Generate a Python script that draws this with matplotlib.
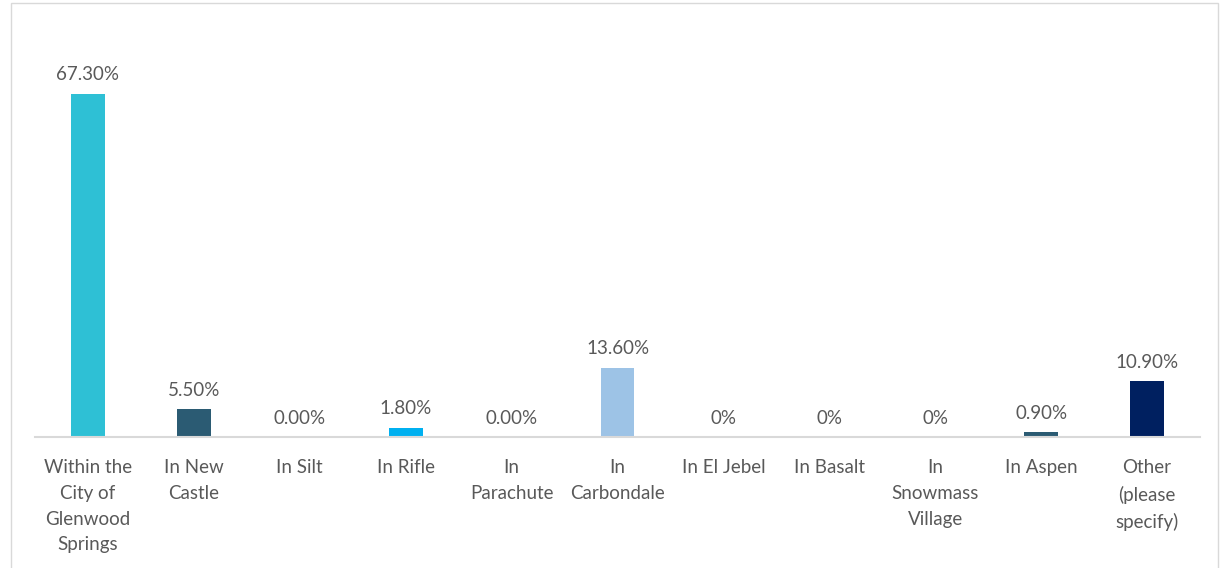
import matplotlib
matplotlib.use("Agg")
import matplotlib.pyplot as plt
from matplotlib.patches import Rectangle

categories = ["Within the\nCity of\nGlenwood\nSprings", "In New\nCastle", "In Silt", "In Rifle",
              "In\nParachute", "In\nCarbondale", "In El Jebel", "In Basalt",
              "In\nSnowmass\nVillage", "In Aspen", "Other\n(please\nspecify)"]
values = [67.3, 5.5, 0.0, 1.8, 0.0, 13.6, 0.0, 0.0, 0.0, 0.9, 10.9]
value_labels = ["67.30%", "5.50%", "0.00%", "1.80%", "0.00%", "13.60%", "0%", "0%", "0%", "0.90%", "10.90%"]
colors = ["#2EC0D5", "#2B5B73", "#2EC0D5", "#00B0F0", "#2B5B73", "#9DC3E6",
          "#2EC0D5", "#2EC0D5", "#2EC0D5", "#2B5B73", "#002060"]

plt.rcParams['font.family'] = ['Lato', 'DejaVu Sans']
W, H = 1220, 568
fig = plt.figure(figsize=(W / 100, H / 100), dpi=100)
ax = fig.add_axes([35 / W, 1 - 437 / H, (1200 - 35) / W, (437 - 29) / H])

FS = 13.5
x = list(range(len(categories)))
ax.bar(x, values, width=0.32, color=colors)
ax.set_xlim(-0.5, len(categories) - 0.5)
ax.set_ylim(0, 80)
for xi, v, lab in zip(x, values, value_labels):
    ax.annotate(lab, (xi, v), xytext=(0, 7.5), textcoords="offset points",
                ha="center", va="bottom", fontsize=FS, color="#595959")

ax.set_xticks(x)
ax.set_xticklabels(categories, fontsize=FS, color="#595959", linespacing=1.62, va="top")
ax.tick_params(axis="x", length=0, pad=16)
ax.set_yticks([])
for s in ["top", "right", "left"]:
    ax.spines[s].set_visible(False)
ax.spines["bottom"].set_color("#D9D9D9")
ax.spines["bottom"].set_linewidth(1.5)

fig.patches.append(Rectangle((10.5 / W, -0.1), (1218 - 10.5) / W, 1.1 - 3 / H,
                             transform=fig.transFigure, fill=False,
                             edgecolor="#D9D9D9", linewidth=1))
fig.savefig("out.png", dpi=100)
